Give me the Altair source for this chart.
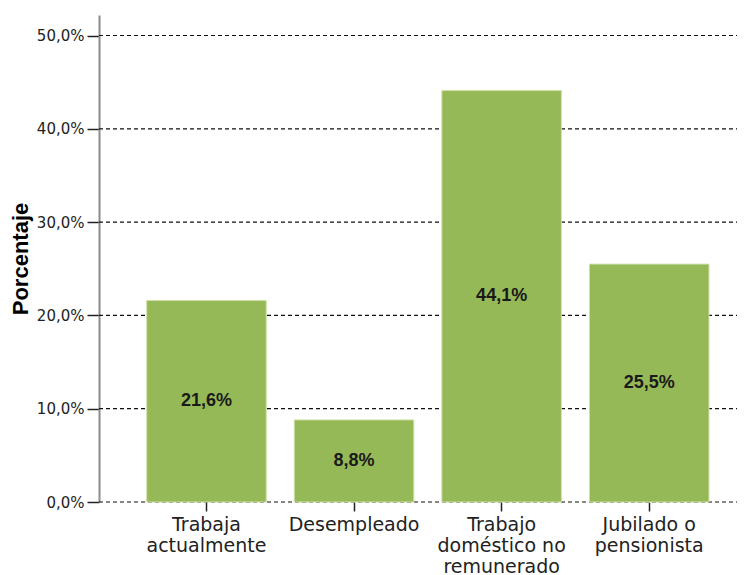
import altair as alt
import pandas as pd

categories = ["Trabaja actualmente", "Desempleado", "Trabajo doméstico no remunerado", "Jubilado o pensionista"]
label_lines = ["Trabaja\nactualmente", "Desempleado", "Trabajo\ndoméstico no\nremunerado", "Jubilado o\npensionista"]
percentages = [21.6, 8.8, 44.1, 25.5]
y_ticks = [0, 10, 20, 30, 40, 50]

df = pd.DataFrame({"cat": label_lines, "pct": percentages})

FONT = "DejaVu Sans"
BOLD_FONT = "Liberation Sans"
W = 638
H = 487

x_enc = alt.X(
    "cat:N",
    sort=label_lines,
    scale=alt.Scale(paddingInner=0.19, paddingOuter=0.2565, align=0.63),
    axis=alt.Axis(
        title=None,
        labelExpr="split(datum.label, '\\n')",
        labelAngle=0,
        labelFont=FONT,
        labelFontSize=19,
        labelColor="#222222",
        labelLineHeight=21,
        labelPadding=4,
        tickColor="#222222",
        tickSize=9,
        tickWidth=1.5,
        domain=False,
        grid=False,
    ),
)

y_scale = alt.Scale(domain=[0, 52.2], nice=False)

base = alt.Chart(df)

grid = alt.Chart(pd.DataFrame({"v": y_ticks})).mark_rule(
    color="#111111", strokeDash=[4, 3], strokeWidth=1.2
).encode(
    y=alt.Y("v:Q", scale=y_scale),
    x=alt.value(0),
    x2=alt.value(W),
)

bars = base.mark_bar(color="#96b957", stroke="#cfe0a8", strokeWidth=1).encode(
    x=x_enc,
    y=alt.Y(
        "pct:Q",
        scale=y_scale,
        axis=alt.Axis(
            title="Porcentaje",
            titleFont=BOLD_FONT,
            titleFontSize=22,
            titleFontWeight="bold",
            titleColor="#000000",
            titlePadding=4,
            values=y_ticks,
            labelExpr="replace(format(datum.value, '.1f'), '.', ',') + '%'",
            labelFont=FONT,
            labelFontSize=15,
            labelColor="#222222",
            labelPadding=3,
            tickColor="#222222",
            tickSize=12,
            tickWidth=1.5,
            domainColor="#8c8c8c",
            domainWidth=2,
            grid=False,
        ),
    ),
)

text = base.transform_calculate(
    mid="datum.pct / 2",
    lbl="replace(format(datum.pct, '.1f'), '.', ',') + '%'",
).mark_text(
    font=BOLD_FONT, fontSize=18, fontWeight="bold", color="#1a1a1a", baseline="middle"
).encode(
    x=alt.X("cat:N", sort=label_lines),
    y=alt.Y("mid:Q", scale=y_scale),
    text="lbl:N",
)

chart = alt.layer(grid, bars, text).properties(
    width=W,
    height=H,
    background="white",
    autosize=alt.AutoSizeParams(type="none"),
    padding={"left": 91, "top": 7, "right": 0, "bottom": 73},
).configure_view(strokeWidth=0)

chart.save("out.html", embed_options={"renderer": "svg", "actions": False})
